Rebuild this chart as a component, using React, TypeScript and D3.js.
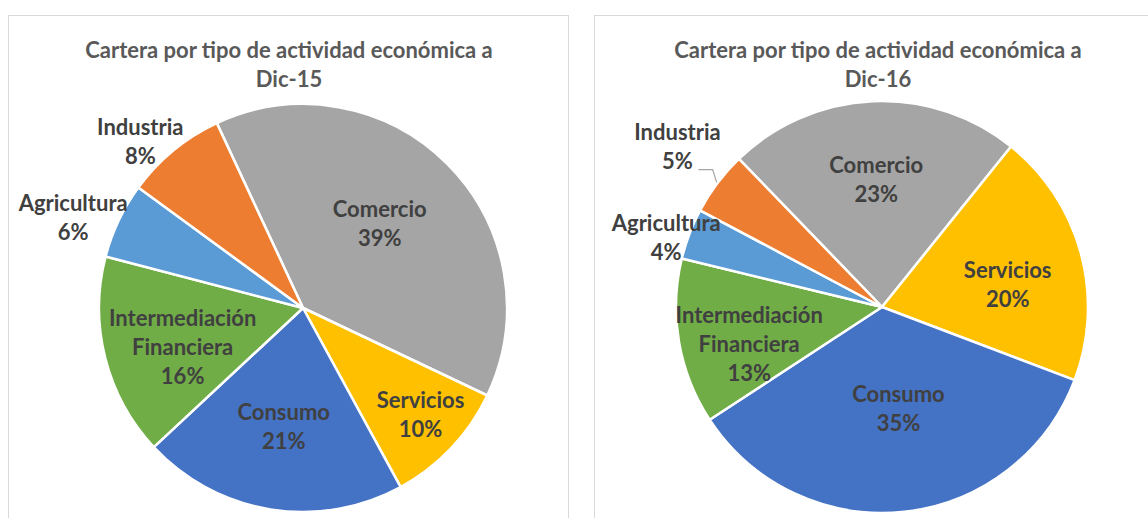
import React from 'react';
import * as d3 from 'd3';

// ---------- DATA ----------
const categories = ['Comercio', 'Servicios', 'Consumo', 'Intermediación Financiera', 'Agricultura', 'Industria'];
const values2015 = [39, 10, 21, 16, 6, 8];
const values2016 = [23, 20, 35, 13, 4, 5];
const titleLines2015 = ['Cartera por tipo de actividad económica a', 'Dic-15'];
const titleLines2016 = ['Cartera por tipo de actividad económica a', 'Dic-16'];

// ---------- STYLE / LAYOUT ----------
const colors: Record<string, string> = {
  'Comercio': '#A5A5A5',
  'Servicios': '#FFC000',
  'Consumo': '#4472C4',
  'Intermediación Financiera': '#70AD47',
  'Agricultura': '#5B9BD5',
  'Industria': '#ED7D31',
};
const FONT = 'Lato, "Open Sans", sans-serif';
const FS = 22;

interface ChartLayout {
  panelX: number;
  panelW: number;
  cx: number;
  cy: number;
  r: number;
  startDeg: number;
  titleX: number;
  labelFactor: number[];
  labelAngleAdj: number[];
  leader: boolean[];
}

const layout2015: ChartLayout = {
  panelX: 8.5, panelW: 560, cx: 303, cy: 308, r: 204, startDeg: -25, titleX: 289,
  labelFactor: [0.56, 0.78, 0.59, 0.62, 1.21, 1.14],
  labelAngleAdj: [-3, -1, 0, -3.7, -4, -5],
  leader: [false, false, false, false, false, false],
};
const layout2016: ChartLayout = {
  panelX: 594.5, panelW: 600, cx: 882, cy: 307, r: 206, startDeg: -44, titleX: 878,
  labelFactor: [0.62, 0.62, 0.5, 0.67, 1.1, 1.26],
  labelAngleAdj: [0, 5, -3, -6, -3, 1],
  leader: [false, false, false, false, false, true],
};

const rad = (d: number) => (d * Math.PI) / 180;

function PieChart({ values, titleLines, L }: { values: number[]; titleLines: string[]; L: ChartLayout }) {
  const total = d3.sum(values);
  const pie = d3
    .pie<number>()
    .sort(null)
    .value((d) => d)
    .startAngle(rad(L.startDeg))
    .endAngle(rad(L.startDeg + 360));
  const arcs = pie(values);
  const arc = d3.arc<d3.PieArcDatum<number>>().innerRadius(0).outerRadius(L.r);
  const lineH = 29;

  return (
    <g>
      <rect x={L.panelX} y={15.5} width={L.panelW} height={540} fill="#fff" stroke="#D9D9D9" strokeWidth={1} />
      {titleLines.map((t, i) => (
        <text
          key={i}
          x={L.titleX}
          y={50 + i * 29}
          dy="0.35em"
          textAnchor="middle"
          fontFamily={FONT}
          fontWeight={700}
          fontSize={FS}
          fill="#595959"
        >
          {t}
        </text>
      ))}
      <g transform={`translate(${L.cx},${L.cy})`}>
        {arcs.map((a, i) => (
          <path key={i} d={arc(a) || ''} fill={colors[categories[i]]} stroke="#fff" strokeWidth={2.5} strokeLinejoin="round" />
        ))}
      </g>
      {arcs.map((a, i) => {
        const mid = (a.startAngle + a.endAngle) / 2 + rad(L.labelAngleAdj[i]);
        const dist = L.r * L.labelFactor[i];
        const lx = L.cx + dist * Math.sin(mid);
        const ly = L.cy - dist * Math.cos(mid);
        const lines = [...categories[i].split(' '), `${Math.round((values[i] / total) * 100)}%`];
        const y0 = ly - ((lines.length - 1) * lineH) / 2;
        let leaderEl = null;
        if (L.leader[i]) {
          const m = (a.startAngle + a.endAngle) / 2;
          const ex = L.cx + (L.r + 1) * Math.sin(m);
          const ey = L.cy - (L.r + 1) * Math.cos(m);
          const sy = y0 + lineH + 8;
          const sx = lx + 21;
          leaderEl = (
            <polyline
              points={`${sx},${sy} ${ex - 4},${sy} ${ex},${ey}`}
              fill="none"
              stroke="#A6A6A6"
              strokeWidth={1.2}
            />
          );
        }
        return (
          <g key={i}>
            {leaderEl}
            {lines.map((t, j) => (
              <text
                key={j}
                x={lx}
                y={y0 + j * lineH}
                dy="0.35em"
                textAnchor="middle"
                fontFamily={FONT}
                fontWeight={700}
                fontSize={FS}
                fill="#404040"
              >
                {t}
              </text>
            ))}
          </g>
        );
      })}
    </g>
  );
}

export default function App() {
  return (
    <svg
      width={1148}
      height={518}
      style={{ position: 'absolute', left: 0, top: 0, background: '#fff' }}
    >
      <rect x={0} y={0} width={1148} height={518} fill="#fff" />
      <PieChart values={values2015} titleLines={titleLines2015} L={layout2015} />
      <PieChart values={values2016} titleLines={titleLines2016} L={layout2016} />
    </svg>
  );
}
